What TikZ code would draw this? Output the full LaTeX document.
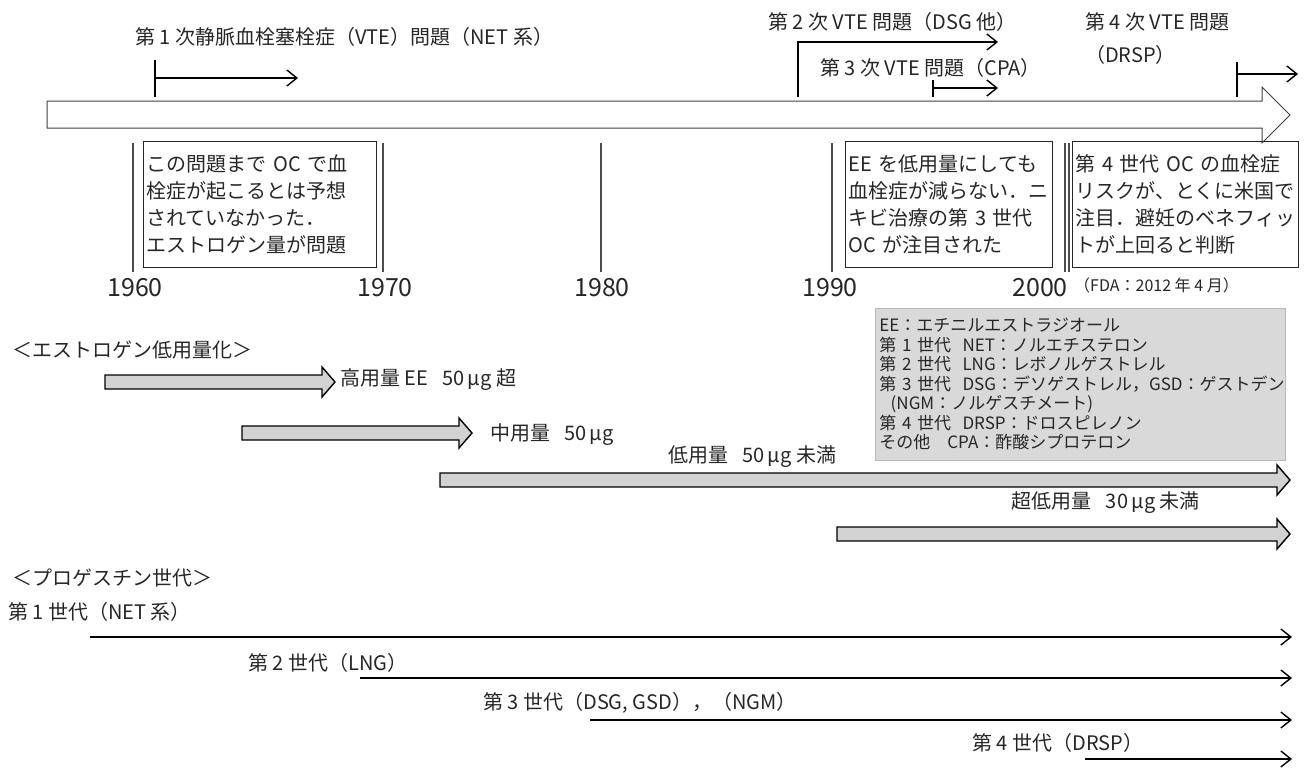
\documentclass[tikz,border=0pt]{standalone}
\usepackage{fontspec}
\setmainfont{Noto Sans CJK JP}
\usetikzlibrary{arrows.meta}
\tikzset{
  lbl/.style={font=\fontsize{20}{24}\selectfont, anchor=west, inner sep=0pt, text=black!85},
  yr/.style={font=\fontsize{25}{28}\selectfont, inner sep=0pt, text=black!85},
  boxtxt/.style={draw=black!85, line width=1pt, font=\fontsize{20}{27}\selectfont, align=left, anchor=north west, inner xsep=3pt, inner ysep=0pt, text=black!85},
  leg/.style={fill=gray!30, draw=gray!55, line width=0.8pt, font=\fontsize{17}{19.5}\selectfont, align=left, anchor=north west, inner xsep=4pt, inner ysep=0pt, text=black!85},
  thinarr/.style={line width=1.4pt, -{Straight Barb[length=10pt,width=16pt,line width=1.4pt]}},
  barline/.style={line width=2pt},
  tickline/.style={line width=1.1pt, draw=black!70},
  fatar/.style={draw=black, line width=1.4pt, fill=gray!35, line join=miter},
  bigar/.style={draw=black!75, line width=1pt, fill=white},
}
\newcommand\fatarr[3]{\draw[fatar] (#1,#3-7) -- (#2-13,#3-7) -- (#2-13,#3-15) -- (#2,#3) -- (#2-13,#3+15) -- (#2-13,#3+7) -- (#1,#3+7) -- cycle;}
\newcommand\gapsp{\hspace{0.7em}}
\begin{document}
\begin{tikzpicture}[x=1pt,y=-1pt]
\useasboundingbox (0,0) rectangle (1309,769);
% big timeline arrow
\draw[bigar] (47,101) -- (1262,101) -- (1262,87) -- (1290,115) -- (1262,143) -- (1262,128) -- (47,128) -- cycle;
% VTE problems
\node[lbl] (t1) at (135,37) {第 1 次静脈血栓塞栓症（VTE）問題（NET 系）};
\coordinate (b1t) at (155,60); \coordinate (b1b) at (155,97);
\coordinate (a1s) at (155,78); \coordinate (a1e) at (298,78);
\draw[barline] (b1t) -- (b1b);
\draw[thinarr] (a1s) -- (a1e);
\node[lbl] (t2) at (768,22) {第 2 次 VTE 問題（DSG 他）};
\coordinate (a2s) at (798,97); \coordinate (a2e) at (998,42);
\draw[thinarr] (a2s) |- (a2e);
\node[lbl] (t3) at (820,68) {第 3 次 VTE 問題（CPA）};
\coordinate (b3t) at (933,80); \coordinate (b3b) at (933,97);
\coordinate (a3s) at (933,88); \coordinate (a3e) at (998,88);
\draw[barline] (b3t) -- (b3b);
\draw[thinarr] (a3s) -- (a3e);
\node[lbl] (t4) at (1085,22) {第 4 次 VTE 問題};
\node[lbl] (t4b) at (1085,55) {（DRSP）};
\coordinate (b4t) at (1237,62); \coordinate (b4b) at (1237,97);
\coordinate (a4s) at (1237,74); \coordinate (a4e) at (1298,74);
\draw[barline] (b4t) -- (b4b);
\draw[thinarr] (a4s) -- (a4e);
% ticks
\foreach \x/\n in {133/k60,383/k70,601/k80,832/k90,1065/k00a,1069/k00b}{
  \coordinate (\n t) at (\x,143); \coordinate (\n b) at (\x,272);
  \draw[tickline] (\n t) -- (\n b);
}
\node[yr] (y60) at (135,288) {1960};
\node[yr] (y70) at (385,288) {1970};
\node[yr] (y80) at (602,288) {1980};
\node[yr] (y90) at (830,288) {1990};
\node[yr] (y00) at (1040,288) {2000};
\node[font=\fontsize{16}{18}\selectfont, anchor=west, inner sep=0pt, text=black!85] (fda) at (1074,285) {（FDA：2012 年 4 月）};
% boxes
\node[boxtxt, text width=227pt, minimum height=126pt] (box1) at (143,141) {この問題まで OC で血\\栓症が起こるとは予想\\されていなかった．\\エストロゲン量が問題};
\node[boxtxt, text width=201pt, minimum height=126pt] (box2) at (845,141) {EE を低用量にしても\\血栓症が減らない．ニ\\キビ治療の第 3 世代\\OC が注目された};
\node[boxtxt, text width=220pt, minimum height=126pt] (box3) at (1072,141) {第 4 世代 OC の血栓症\\リスクが、とくに米国で\\注目．避妊のベネフィッ\\トが上回ると判断};
% legend
\node[leg, text width=402pt, minimum height=152pt] (legend) at (875,308) {EE：エチニルエストラジオール\\第 1 世代\ \ NET：ノルエチステロン\\第 2 世代\ \ LNG：レボノルゲストレル\\第 3 世代\ \ DSG：デソゲストレル，GSD：ゲストデン\\\ \ (NGM：ノルゲスチメート)\\第 4 世代\ \ DRSP：ドロスピレノン\\その他\ \ \ CPA：酢酸シプロテロン};
% estrogen
\node[lbl] (eh) at (12,350) {＜エストロゲン低用量化＞};
\fatarr{105}{335}{382}
\node[lbl] (e1) at (340,380) {高用量 EE\gapsp 50\,μg 超};
\fatarr{242}{472}{433}
\node[lbl] (e2) at (490,435) {中用量\gapsp 50\,μg};
\fatarr{440}{1290}{480}
\node[lbl] (e3) at (668,457) {低用量\gapsp 50\,μg 未満};
\fatarr{837}{1290}{534}
\node[lbl, anchor=east] (e4) at (1200,503) {超低用量\gapsp 30\,μg 未満};
% progestin
\node[lbl] (ph) at (12,578) {＜プロゲスチン世代＞};
\node[lbl] (g1) at (8,612) {第 1 世代（NET 系）};
\coordinate (g1s) at (90,637); \coordinate (g1e) at (1292,637);
\draw[thinarr] (g1s) -- (g1e);
\node[lbl] (g2) at (248,663) {第 2 世代（LNG）};
\coordinate (g2s) at (360,678); \coordinate (g2e) at (1292,678);
\draw[thinarr] (g2s) -- (g2e);
\node[lbl] (g3) at (483,703) {第 3 世代（DSG, GSD），（NGM）};
\coordinate (g3s) at (590,720); \coordinate (g3e) at (1292,720);
\draw[thinarr] (g3s) -- (g3e);
\node[lbl] (g4) at (972,743) {第 4 世代（DRSP）};
\coordinate (g4s) at (1085,759); \coordinate (g4e) at (1292,759);
\draw[thinarr] (g4s) -- (g4e);
\end{tikzpicture}
\end{document}
